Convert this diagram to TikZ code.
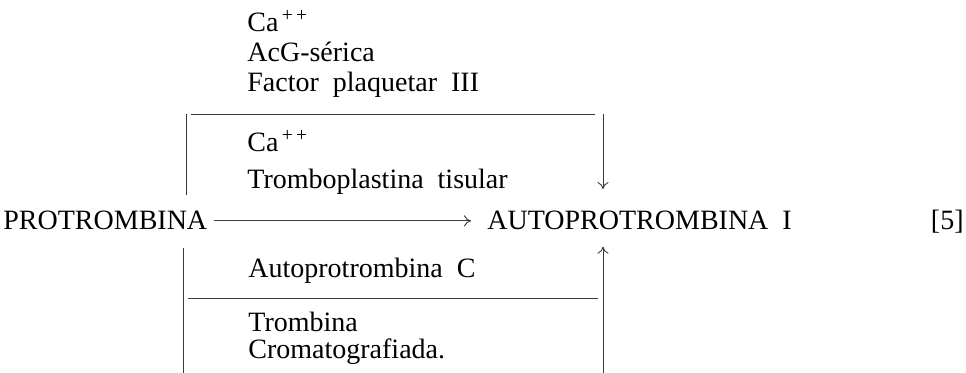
\documentclass[tikz,border=0pt]{standalone}
\usepackage{fontspec}
\setmainfont{Liberation Serif}
\usepackage{tikz}
\usetikzlibrary{arrows.meta,positioning,calc}
\definecolor{inkline}{HTML}{3A3A3A}
\newcommand{\diagfont}{\fontsize{14}{17}\selectfont\spaceskip=0.5em plus 0.1em\relax}

\begin{document}
\begin{tikzpicture}[x=0.5pt, y=-0.5pt,
    lbl/.style={anchor=base west, inner sep=0pt, font=\diagfont},
    rule/.style={draw=inkline, line width=0.45pt},
    arr/.style={rule, -{To[length=3.5pt, width=5.5pt]}}
]
    \useasboundingbox (0,0) rectangle (966,373);

    % Main reaction
    \node[lbl] (prot) at (3,230) {PROTROMBINA};
    \node[lbl] (auto) at (487,230) {AUTOPROTROMBINA I};
    \node[lbl, anchor=base east] (eqn) at (964,230) {[5]};

    % Upper cofactors
    \node[lbl] (caA) at (247,32) {Ca\textsuperscript{\,+\,+}};
    \node[lbl] (acg) at (247,62) {AcG-sérica};
    \node[lbl] (fpl) at (247,92) {Factor plaquetar III};
    \node[lbl] (caB) at (247,152) {Ca\textsuperscript{\,+\,+}};
    \node[lbl] (ttis) at (247,189) {Tromboplastina tisular};

    % Lower cofactors
    \node[lbl] (autc) at (248,278) {Autoprotrombina C};
    \node[lbl] (trmb) at (248,332) {Trombina};
    \node[lbl] (crom) at (248,359) {Cromatografiada.};

    % Brackets
    \coordinate (ulTop) at (186,114);
    \coordinate (ulBot) at (186,195);
    \coordinate (llTop) at (183,248);
    \coordinate (llBot) at (183,373);
    \coordinate (rTop) at (603,114);
    \coordinate (rBot) at (603,373);
    \coordinate (lowRule) at (188,298);
    \draw[rule] (ulTop) -- (ulBot);
    \draw[rule] (llTop) -- (llBot);
    \draw[rule] ($(ulTop)+(5,0)$) -- ($(rTop)+(-8,0)$);
    \draw[rule] (lowRule) -- ($(rTop |- lowRule)+(-5,0)$);

    % Arrows
    \draw[arr, shorten <=3pt, shorten >=8pt] (prot) -- (auto);
    \draw[arr, shorten >=11pt] (rTop) -- (rTop |- auto.north);
    \draw[arr, shorten >=8pt] (rBot) -- (rBot |- auto.south);

\end{tikzpicture}
\end{document}
